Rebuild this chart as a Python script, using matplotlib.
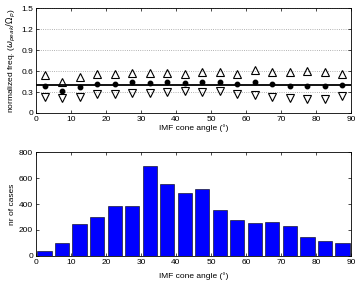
import numpy as np
import matplotlib
matplotlib.use('Agg')
import matplotlib.pyplot as plt

plt.rcParams['font.family'] = ['Liberation Sans', 'DejaVu Sans']
plt.rcParams['font.size'] = 6

# bin centres of IMF cone angle (deg)
angles = np.arange(2.5, 90, 5)

# normalized frequency: upper, median, lower per bin
upper = [0.54, 0.44, 0.51, 0.565, 0.565, 0.58, 0.58, 0.58, 0.56,
         0.59, 0.59, 0.56, 0.62, 0.59, 0.585, 0.60, 0.59, 0.56]
median = [0.39, 0.32, 0.37, 0.42, 0.42, 0.44, 0.43, 0.44, 0.43,
          0.44, 0.45, 0.41, 0.44, 0.41, 0.39, 0.39, 0.39, 0.40]
lower = [0.23, 0.21, 0.235, 0.27, 0.27, 0.29, 0.28, 0.30, 0.31,
         0.30, 0.31, 0.27, 0.26, 0.225, 0.22, 0.205, 0.20, 0.25]
mean_level = 0.405

# number of cases per bin
cases = [36, 97, 249, 303, 387, 387, 690, 551, 485,
         518, 354, 279, 256, 262, 231, 144, 115, 97]

fig = plt.figure(figsize=(3.59, 2.81), dpi=100)

ax1 = fig.add_axes([0.100, 0.598, 0.878, 0.372])
ax1.plot(angles, upper, '^', ms=5.5, mfc='none', mec='k', mew=0.8)
ax1.plot(angles, lower, 'v', ms=5.5, mfc='none', mec='k', mew=0.8)
ax1.plot(angles, median, 'o', ms=3.2, color='k')
ax1.plot([0, 90], [mean_level, mean_level], 'k-', lw=1.3)
ax1.set_xlim(0, 90)
ax1.set_ylim(0, 1.5)
ax1.set_xticks(np.arange(0, 91, 10))
ax1.set_yticks([0, 0.3, 0.6, 0.9, 1.2, 1.5])
ax1.set_yticklabels(['0', '0.3', '0.6', '0.9', '1.2', '1.5'])
ax1.yaxis.grid(True, linestyle=':', color='0.6', lw=0.6)
ax1.set_xlabel('IMF cone angle (°)', labelpad=1)
ax1.set_ylabel(r'normalized freq. ($\omega_{peak}/\Omega_p$)', labelpad=2)

ax2 = fig.add_axes([0.100, 0.089, 0.878, 0.370])
ax2.bar(angles, cases, width=4.1, color='#0000ff', edgecolor='k', lw=0.4)
ax2.set_xlim(0, 90)
ax2.set_ylim(0, 800)
ax2.set_xticks(np.arange(0, 91, 10))
ax2.set_yticks(np.arange(0, 801, 200))
ax2.set_xlabel('IMF cone angle (°)', labelpad=5)
ax2.set_ylabel('nr of cases', labelpad=2)

for ax in (ax1, ax2):
    ax.tick_params(direction='in', top=True, right=True, length=2.5,
                   width=0.5, pad=2, labelsize=6)
    for s in ax.spines.values():
        s.set_linewidth(0.6)

fig.savefig('out.png', dpi=100)
